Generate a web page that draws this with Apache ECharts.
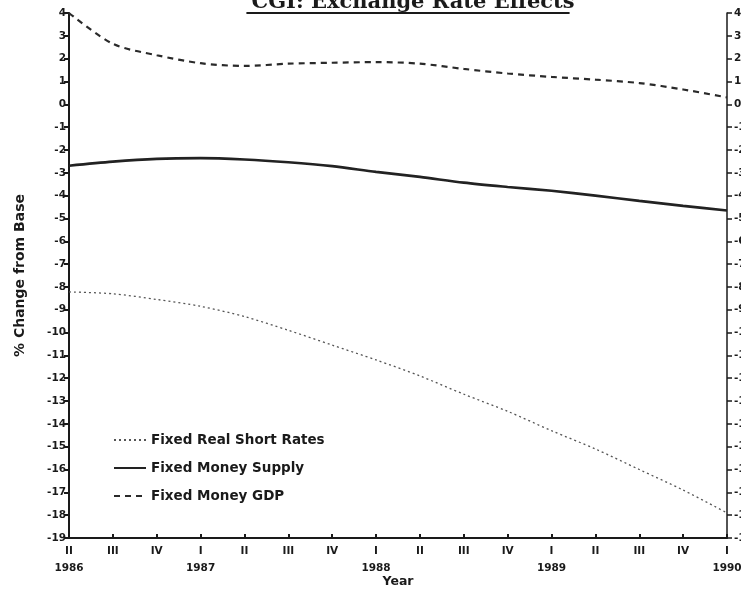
<!DOCTYPE html>
<html>
<head>
<meta charset="utf-8">
<script src="https://cdn.jsdelivr.net/npm/echarts@6/dist/echarts.min.js"></script>
<style>
  html, body { margin: 0; padding: 0; background: #ffffff; }
  #chart { width: 741px; height: 593px; }
</style>
</head>
<body>
<div id="chart"></div>
<script>
// Quarterly simulation results, 1986 Q2 through 1990 Q1
const quarterLabels = ['II', 'III', 'IV', 'I', 'II', 'III', 'IV', 'I', 'II', 'III', 'IV', 'I', 'II', 'III', 'IV', 'I'];
const yearLabels = ['1986', '', '', '1987', '', '', '', '1988', '', '', '', '1989', '', '', '', '1990'];

// % change from base
const fixedRealShortRates = [-8.22, -8.3, -8.55, -8.85, -9.3, -9.9, -10.55, -11.2, -11.9, -12.7, -13.45, -14.3, -15.1, -16.0, -16.9, -17.9];
const fixedMoneySupply = [-2.69, -2.51, -2.39, -2.36, -2.42, -2.54, -2.71, -2.96, -3.18, -3.43, -3.62, -3.79, -4.0, -4.23, -4.45, -4.65];
const fixedMoneyGDP = [4.0, 2.65, 2.15, 1.8, 1.68, 1.78, 1.82, 1.85, 1.78, 1.55, 1.35, 1.2, 1.08, 0.93, 0.65, 0.3];

const categories = quarterLabels.map((q, i) => {
  let y = yearLabels[i];
  for (let k = i; !y && k >= 0; k--) y = yearLabels[k];
  return y + ' ' + q;
});

const ink = '#1a1a1a';
const labelFont = { fontFamily: 'DejaVu Sans', fontWeight: 'bold', fontSize: 10.5, color: ink };

const yAxisCommon = {
  type: 'value',
  min: -19,
  max: 4,
  interval: 1,
  splitLine: { show: false },
  axisTick: { show: true, length: 5, lineStyle: { color: ink, width: 2 } },
  axisLabel: Object.assign({ margin: 3 }, labelFont)
};

const chart = echarts.init(document.getElementById('chart'), null, { renderer: 'canvas' });

// width of the heading, used for its underline
const headingText = 'CGI: Exchange Rate Effects';
const headingSize = 21;
const ctx = document.createElement('canvas').getContext('2d');
ctx.font = 'bold ' + headingSize + 'px "DejaVu Serif"';
const headingWidth = ctx.measureText(headingText).width;
const headingCenter = 408;

chart.setOption({
  backgroundColor: '#ffffff',
  animation: false,
  title: {
    text: headingText,
    left: headingCenter,
    textAlign: 'center',
    top: -13,
    textStyle: { fontFamily: 'DejaVu Serif', fontWeight: 'bold', fontSize: headingSize, color: ink }
  },
  graphic: [{
    type: 'line',
    shape: { x1: headingCenter - headingWidth / 2, y1: 13, x2: headingCenter + headingWidth / 2, y2: 13 },
    style: { stroke: ink, lineWidth: 2 }
  }],
  grid: { left: 69, right: 14, top: 13, bottom: 55, containLabel: false, outerBoundsMode: 'none' },
  legend: {
    orient: 'vertical',
    left: 108,
    top: 428,
    itemWidth: 32,
    itemHeight: 10,
    itemGap: 14,
    itemStyle: { opacity: 0 },
    textStyle: { fontFamily: 'DejaVu Sans', fontWeight: 'bold', fontSize: 13.5, color: ink },
    data: ['Fixed Real Short Rates', 'Fixed Money Supply', 'Fixed Money GDP']
  },
  xAxis: {
    type: 'category',
    data: categories,
    boundaryGap: false,
    name: 'Year',
    nameLocation: 'middle',
    nameGap: 37,
    nameMoveOverlap: false,
    nameTextStyle: { fontFamily: 'DejaVu Sans', fontWeight: 'bold', fontSize: 12.5, color: ink },
    axisLine: { onZero: false, lineStyle: { color: ink, width: 2 } },
    axisTick: { show: true, inside: true, length: 4, alignWithLabel: true, lineStyle: { color: ink, width: 2 } },
    axisLabel: Object.assign({
      margin: 5,
      lineHeight: 17,
      interval: 0,
      formatter: (v, i) => quarterLabels[i] + (yearLabels[i] ? '\n' + yearLabels[i] : '')
    }, labelFont)
  },
  yAxis: [
    Object.assign({}, yAxisCommon, {
      position: 'left',
      name: '% Change from Base',
      nameLocation: 'middle',
      nameGap: 42,
      nameMoveOverlap: false,
      nameTextStyle: { fontFamily: 'DejaVu Sans', fontWeight: 'bold', fontSize: 14, color: ink },
      axisLine: { show: true, onZero: false, lineStyle: { color: ink, width: 2 } }
    }),
    Object.assign({}, yAxisCommon, {
      position: 'right',
      axisLine: { show: true, onZero: false, lineStyle: { color: ink, width: 1.5 } },
      axisTick: { show: true, length: 5, lineStyle: { color: ink, width: 1.5 } },
      axisLabel: Object.assign({ margin: 7 }, labelFont)
    })
  ],
  series: [
    {
      name: 'Fixed Real Short Rates',
      type: 'line',
      data: fixedRealShortRates,
      smooth: 0.3,
      symbol: 'none',
      lineStyle: { color: '#555', width: 1.3, type: [2, 3] },
      itemStyle: { color: '#555' }
    },
    {
      name: 'Fixed Money Supply',
      type: 'line',
      data: fixedMoneySupply,
      smooth: 0.3,
      symbol: 'none',
      lineStyle: { color: '#222', width: 2.6, type: 'solid' },
      itemStyle: { color: '#222' }
    },
    {
      name: 'Fixed Money GDP',
      type: 'line',
      data: fixedMoneyGDP,
      smooth: 0.3,
      symbol: 'none',
      lineStyle: { color: '#2a2a2a', width: 2.2, type: [6, 5] },
      itemStyle: { color: '#2a2a2a' }
    }
  ]
});
</script>
</body>
</html>
